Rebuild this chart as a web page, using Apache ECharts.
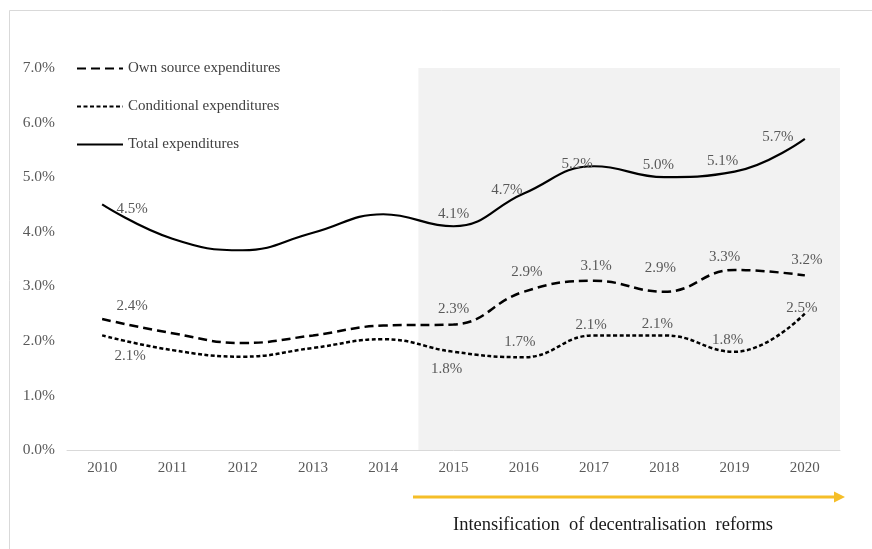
<!DOCTYPE html>
<html>
<head>
<meta charset="utf-8">
<script src="https://cdn.jsdelivr.net/npm/echarts@6/dist/echarts.min.js"></script>
<style>
  html, body { margin: 0; padding: 0; background: #fff; }
  #chart { width: 872px; height: 549px; }
</style>
</head>
<body>
<div id="chart"></div>
<script>
// values (percent of GDP)
const years = ['2010', '2011', '2012', '2013', '2014', '2015', '2016', '2017', '2018', '2019', '2020'];
const ownSource = [2.4, 2.14, 1.96, 2.1, 2.28, 2.3, 2.9, 3.1, 2.9, 3.3, 3.2];
const conditional = [2.1, 1.83, 1.71, 1.87, 2.03, 1.8, 1.7, 2.1, 2.1, 1.8, 2.5];
const total = [4.5, 3.87, 3.66, 3.98, 4.32, 4.1, 4.7, 5.2, 5.0, 5.1, 5.7];
// which points carry a label
const labelled = [true, false, false, false, false, true, true, true, true, true, true];

const serif = '"Liberation Serif", "DejaVu Serif", serif';
const grey = '#595959';

// label placement per point: [position, dx, dy]
const totalLabelPos = [['top', 30, 16], 0, 0, 0, 0, ['top', 0, -1], ['top', -17, 8], ['top', -17, 9], ['top', -6, -1], ['top', -12, 1], ['top', -27, 10]];
const ownLabelPos = [['top', 30, -1], 0, 0, 0, 0, ['top', 0, -4], ['top', 3, -8], ['top', 2, -3], ['top', -4, -12], ['top', -10, -1], ['top', 2, -4]];
const condLabelPos = [['bottom', 28, 9], 0, 0, 0, 0, ['bottom', -7, 6], ['top', -4, -4], ['top', -3, 1], ['top', -7, 0], ['top', -7, 0], ['top', -3, 6]];

function withLabels(values, pos) {
  return values.map((v, i) => {
    if (!labelled[i]) return v;
    return {
      value: v,
      label: {
        show: true,
        position: pos[i][0],
        distance: 4,
        offset: [pos[i][1], pos[i][2]],
        formatter: p => p.value.toFixed(1) + '%',
        fontFamily: serif,
        fontSize: 15,
        color: grey
      }
    };
  });
}

var myChart = echarts.init(document.getElementById('chart'));

let option = {
  animation: false,
  backgroundColor: '#fff',
  grid: {
    left: 67,
    right: 32,
    top: 68,
    bottom: 99
  },
  legend: {
    orient: 'vertical',
    left: 71,
    top: 56,
    itemWidth: 46,
    itemHeight: 14,
    itemGap: 23,
    itemStyle: { opacity: 0 },
    textStyle: {
      fontFamily: serif,
      fontSize: 15,
      color: '#404040'
    },
    data: ['Own source expenditures', 'Conditional expenditures', 'Total expenditures']
  },
  xAxis: [
    {
      type: 'category',
      data: years,
      boundaryGap: true,
      axisLine: { lineStyle: { color: '#d9d9d9', width: 1 } },
      axisTick: { show: false },
      axisLabel: {
        margin: 11,
        fontFamily: serif,
        fontSize: 15,
        color: grey
      }
    },
    {
      // hidden helper axis used for the shaded period
      type: 'value',
      min: -0.5,
      max: 10.5,
      show: false
    }
  ],
  yAxis: {
    type: 'value',
    min: 0,
    max: 7,
    interval: 1,
    splitLine: { show: false },
    axisLine: { show: false },
    axisTick: { show: false },
    axisLabel: {
      margin: 12,
      fontFamily: serif,
      fontSize: 15.5,
      color: grey,
      formatter: v => v.toFixed(1) + '%'
    }
  },
  series: [
    {
      name: 'shade',
      type: 'line',
      xAxisIndex: 1,
      data: [],
      silent: true,
      markArea: {
        silent: true,
        itemStyle: { color: '#f2f2f2' },
        data: [[{ xAxis: 4.5 }, { xAxis: 10.5 }]]
      }
    },
    {
      name: 'Own source expenditures',
      type: 'line',
      smooth: 0.45,
      symbol: 'circle',
      symbolSize: 0.1,
      z: 3,
      lineStyle: { color: '#000', width: 2.5, type: [9, 5] },
      itemStyle: { color: '#000' },
      data: withLabels(ownSource, ownLabelPos)
    },
    {
      name: 'Conditional expenditures',
      type: 'line',
      smooth: 0.45,
      symbol: 'circle',
      symbolSize: 0.1,
      z: 3,
      lineStyle: { color: '#000', width: 2.5, type: [4, 2.5] },
      itemStyle: { color: '#000' },
      data: withLabels(conditional, condLabelPos)
    },
    {
      name: 'Total expenditures',
      type: 'line',
      smooth: 0.45,
      symbol: 'circle',
      symbolSize: 0.1,
      z: 3,
      lineStyle: { color: '#000', width: 2.2 },
      itemStyle: { color: '#000' },
      data: withLabels(total, totalLabelPos)
    }
  ],
  graphic: [
    {
      type: 'rect',
      shape: { x: 9.5, y: 10.5, width: 900, height: 600 },
      style: { fill: 'none', stroke: '#d9d9d9', lineWidth: 1 },
      silent: true
    },
    {
      type: 'line',
      shape: { x1: 413, y1: 497, x2: 836, y2: 497 },
      style: { stroke: '#f5be28', lineWidth: 3 },
      silent: true
    },
    {
      type: 'polygon',
      shape: { points: [[834, 491.5], [845, 497], [834, 502.5]] },
      style: { fill: '#f5be28' },
      silent: true
    },
    {
      type: 'text',
      left: 453,
      top: 516,
      style: {
        text: 'Intensification  of decentralisation  reforms',
        font: '18.5px ' + serif,
        fill: '#1a1a1a'
      },
      silent: true
    }
  ]
};

option && myChart.setOption(option);
</script>
</body>
</html>
